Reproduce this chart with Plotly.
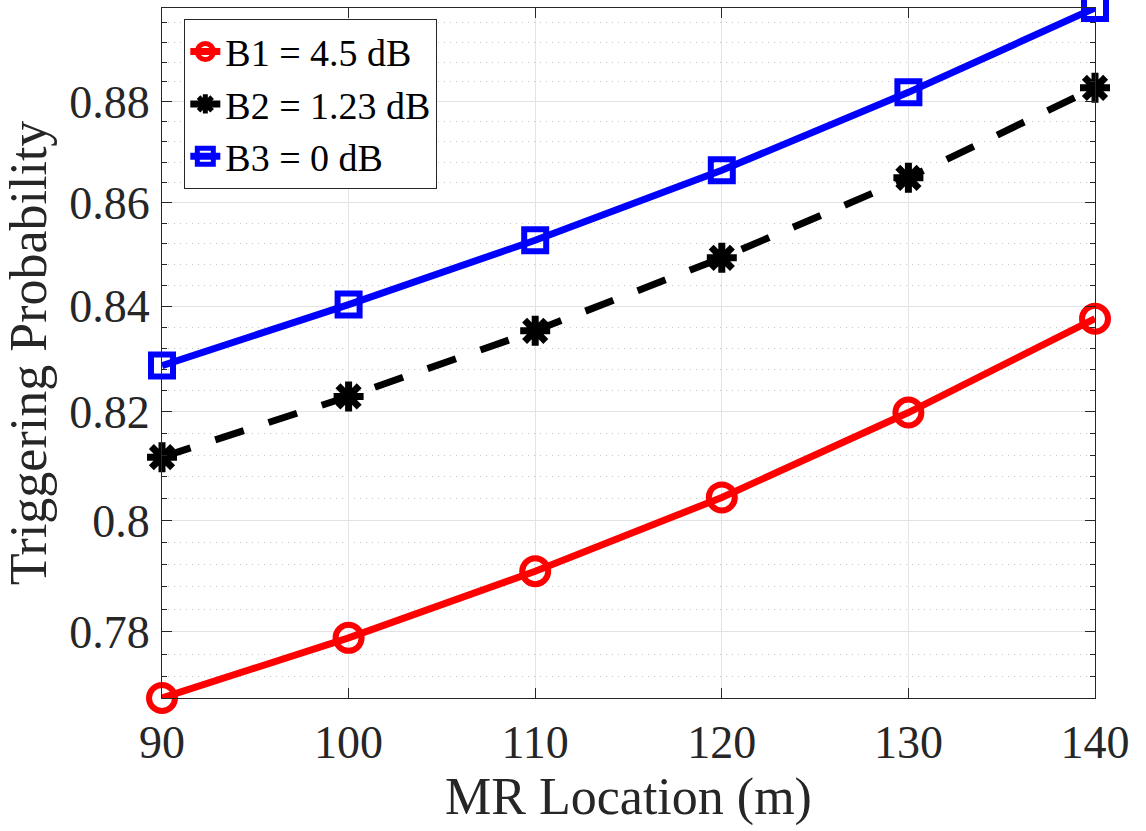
import plotly.graph_objects as go
import math

# ---- data ----
mr_location = [90, 100, 110, 120, 130, 140]
b1_prob = [0.7683, 0.7789, 0.7908, 0.8042, 0.8199, 0.8376]
b2_prob = [0.8116, 0.8229, 0.8353, 0.8493, 0.8649, 0.8828]
b3_prob = [0.8287, 0.8403, 0.8527, 0.8664, 0.8819, 0.8990]

series_names = ["B1 = 4.5 dB", "B2 = 1.23 dB", "B3 = 0 dB"]

x_ticks = [90, 100, 110, 120, 130, 140]
y_ticks = [0.78, 0.80, 0.82, 0.84, 0.86, 0.88]
y_ticktext = ["0.78", "0.8", "0.82", "0.84", "0.86", "0.88"]
y_minor = [0.772, 0.776, 0.784, 0.788, 0.792, 0.796, 0.804, 0.808, 0.812, 0.816,
           0.824, 0.828, 0.832, 0.836, 0.844, 0.848, 0.852, 0.856, 0.864, 0.868,
           0.872, 0.876, 0.884, 0.888, 0.892, 0.896]

FONT = "Liberation Serif"
AX = "#262626"

fig = go.Figure()
fig.add_trace(go.Scatter(
    x=mr_location, y=b1_prob, name=series_names[0], mode="lines+markers",
    line=dict(color="#ff0000", width=7), cliponaxis=False,
    marker=dict(symbol="circle-open", size=26, color="#ff0000", line=dict(width=6, color="#ff0000")),
))
fig.add_trace(go.Scatter(
    x=mr_location, y=b2_prob, name=series_names[1], mode="lines+markers",
    line=dict(color="#000000", width=7, dash="30px,26px"), cliponaxis=False,
    marker=dict(symbol="asterisk-open", size=25, color="#000000", line=dict(width=7, color="#000000")),
))
fig.add_trace(go.Scatter(
    x=mr_location, y=b3_prob, name=series_names[2], mode="lines+markers",
    line=dict(color="#0000ff", width=7), cliponaxis=False,
    marker=dict(symbol="square-open", size=22, color="#0000ff", line=dict(width=6, color="#0000ff")),
))

ymin = min(b1_prob + b2_prob + b3_prob)
ymax = max(b1_prob + b2_prob + b3_prob)

fig.update_layout(
    width=1146, height=831,
    margin=dict(l=162, r=51, t=8, b=133),
    paper_bgcolor="white", plot_bgcolor="white",
    font=dict(family=FONT, color=AX),
    showlegend=True,
    legend=dict(
        x=0.0236, y=0.984, xanchor="left", yanchor="top",
        bgcolor="white", bordercolor="#262626", borderwidth=1.3,
        font=dict(family=FONT, size=38, color="#000000"),
        itemwidth=30, tracegroupgap=0,
    ),
    xaxis=dict(
        range=[min(mr_location), max(mr_location)],
        tickvals=x_ticks, ticktext=[str(v) for v in x_ticks],
        ticks="inside", ticklen=10, tickcolor=AX, tickwidth=1,
        showline=True, linecolor=AX, linewidth=1.3, mirror="ticks",
        showgrid=True, gridcolor="#e3e3e3", gridwidth=1,
        zeroline=False,
        tickfont=dict(family=FONT, size=46, color=AX),
        ticklabelstandoff=4,
        title=dict(text="MR Location (m)", font=dict(family=FONT, size=52, color=AX), standoff=8),
    ),
    yaxis=dict(
        type="log",
        range=[math.log10(ymin), math.log10(ymax)],
        tickvals=y_ticks, ticktext=y_ticktext,
        ticks="inside", ticklen=10, tickcolor=AX, tickwidth=1,
        showline=True, linecolor=AX, linewidth=1.3, mirror="ticks",
        showgrid=True, gridcolor="#e3e3e3", gridwidth=1,
        zeroline=False,
        minor=dict(tickvals=y_minor, ticks="inside", ticklen=5, tickcolor=AX,
                   showgrid=True, gridcolor="#c4c4c4", griddash="1px,5px", gridwidth=1),
        tickfont=dict(family=FONT, size=46, color=AX),
        ticklabelstandoff=2,
        title=dict(text="Triggering Probability", font=dict(family=FONT, size=52, color=AX), standoff=6),
    ),
)

fig.write_html("out.html")
